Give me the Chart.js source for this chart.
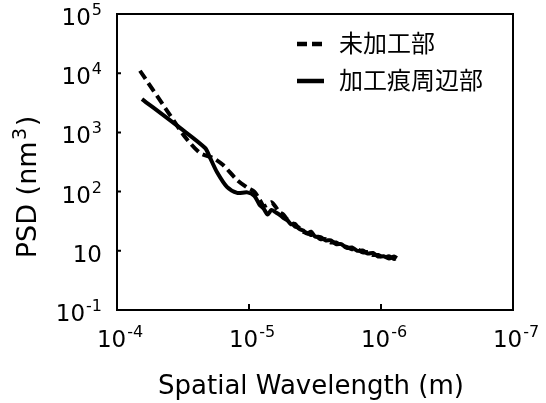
<!DOCTYPE html>
<html>
<head>
<meta charset="utf-8">
<script src="https://cdn.jsdelivr.net/npm/chart.js@4.4.1/dist/chart.umd.min.js"></script>
<style>
  html, body { margin: 0; padding: 0; background: #fff; }
</style>
</head>
<body>
<canvas id="psd" width="546" height="403"></canvas>
<script>
// series labels and axis titles
const seriesLabels = ["未加工部", "加工痕周辺部"];
const xTitle = "Spatial Wavelength (m)";

// head of each curve (before the two curves merge), wavelength in m
const unprocessedHeadWl = [6.70e-5, 4.11e-5, 3.05e-5, 2.35e-5, 1.87e-5, 1.57e-5, 1.23e-5, 1.02e-5];
const unprocessedHeadPsd = [11000, 2210, 836, 449, 370, 281, 157, 115];
const processedHeadWl = [6.47e-5, 3.33e-5, 2.15e-5, 1.97e-5, 1.75e-5, 1.47e-5, 1.23e-5, 1.03e-5];
const processedHeadPsd = [3660, 1190, 545, 370, 214, 120, 95, 97];

// noisy tail, shared wavelengths
const tailWl = [9.12e-6, 8.32e-6, 7.76e-6, 7.24e-6, 6.76e-6, 6.31e-6, 5.89e-6, 5.50e-6, 5.13e-6, 4.79e-6,
  4.47e-6, 4.17e-6, 3.89e-6, 3.63e-6, 3.39e-6, 3.16e-6, 2.88e-6, 2.63e-6, 2.40e-6, 2.19e-6,
  2.00e-6, 1.82e-6, 1.66e-6, 1.51e-6, 1.38e-6, 1.26e-6, 1.15e-6, 1.05e-6, 9.55e-7, 8.71e-7,
  7.94e-7, 7.59e-7];
const unprocessedTailPsd = [100, 74, 57, 60, 66, 56, 45, 41, 34, 31,
  25.5, 24.5, 21, 20, 18.5, 18.5, 15.8, 15.8, 13.8, 13.8,
  12.2, 11.6, 10.6, 10.6, 9.4, 9.5, 8.5, 8.5, 7.6, 8.1,
  7.3, 7.8];
const processedTailPsd = [85, 60, 52, 41, 49, 45, 41, 36, 33, 28,
  28.5, 23.5, 22, 19.5, 21, 17.5, 17, 15, 15, 13,
  13, 11.2, 11.4, 10, 10.1, 9.0, 9.2, 8.0, 8.1, 7.4,
  8.0, 7.5];

// axis ticks: base "10" with these exponents (the figure labels its bottom decade "10-1")
const xTickValues = [1e-7, 1e-6, 1e-5, 1e-4];
const xTickExponents = ["-7", "-6", "-5", "-4"];
const yTickValues = [1, 10, 100, 1000, 10000, 100000];
const yTickExponents = ["-1", "", "2", "3", "4", "5"];

function toPoints(wl, psd) {
  return wl.map(function (x, i) { return { x: x, y: psd[i] }; });
}

const unprocessed = toPoints(unprocessedHeadWl.concat(tailWl), unprocessedHeadPsd.concat(unprocessedTailPsd));
const processed = toPoints(processedHeadWl.concat(tailWl), processedHeadPsd.concat(processedTailPsd));

const baseFont = "23px 'DejaVu Sans'";
const supFont = "16px 'DejaVu Sans'";

// draws "10" with a raised exponent; align is "right" or "center"
function powerLabel(ctx, exp, x, baseline, align) {
  ctx.font = baseFont;
  const wb = ctx.measureText("10").width;
  ctx.font = supFont;
  const we = exp ? ctx.measureText(exp).width + 1 : 0;
  let left = align === "right" ? x - wb - we : x - (wb + we) / 2;
  ctx.font = baseFont;
  ctx.fillText("10", left, baseline);
  if (exp) {
    ctx.font = supFont;
    ctx.fillText(exp, left + wb + 1, baseline - 10);
  }
}

// frame, inward tick marks, tick labels, titles and legend
const decorations = {
  id: "decorations",
  afterDraw: function (chart) {
    const ctx = chart.ctx;
    const a = chart.chartArea;
    const xs = chart.scales.x, ys = chart.scales.y;
    ctx.save();
    ctx.strokeStyle = "#000";
    ctx.lineWidth = 2;
    ctx.beginPath();
    ctx.moveTo(a.left, a.top); ctx.lineTo(a.right, a.top); ctx.lineTo(a.right, a.bottom);
    ctx.stroke();

    // inner ticks
    ctx.beginPath();
    xTickValues.forEach(function (v) {
      const px = xs.getPixelForValue(v);
      if (px > a.left + 2 && px < a.right - 2) { ctx.moveTo(px, a.bottom); ctx.lineTo(px, a.bottom - 6); }
    });
    yTickValues.forEach(function (v) {
      const py = ys.getPixelForValue(v);
      if (py > a.top + 2 && py < a.bottom - 2) { ctx.moveTo(a.left, py); ctx.lineTo(a.left + 4, py); }
    });
    ctx.stroke();

    // tick labels
    ctx.fillStyle = "#000";
    ctx.textAlign = "left";
    ctx.textBaseline = "alphabetic";
    xTickValues.forEach(function (v, i) {
      powerLabel(ctx, xTickExponents[i], xs.getPixelForValue(v) + 3, a.bottom + 37, "center");
    });
    yTickValues.forEach(function (v, i) {
      powerLabel(ctx, yTickExponents[i], a.left - 15, ys.getPixelForValue(v) + 11, "right");
    });

    // x title
    ctx.font = "26px 'DejaVu Sans'";
    ctx.textAlign = "center";
    ctx.fillText(xTitle, (a.left + a.right) / 2 - 4, 394);
    ctx.textAlign = "left";

    // y title with superscript
    ctx.translate(29, 187);
    ctx.rotate(-Math.PI / 2);
    ctx.textBaseline = "middle";
    const big = "27px 'DejaVu Sans'", small = "19px 'DejaVu Sans'";
    ctx.font = big;
    const w1 = ctx.measureText("PSD (nm").width, w3 = ctx.measureText(")").width;
    ctx.font = small;
    const w2 = ctx.measureText("3").width + 3;
    let x0 = -(w1 + w2 + w3) / 2;
    ctx.font = big; ctx.fillText("PSD (nm", x0, 0);
    ctx.font = small; ctx.fillText("3", x0 + w1 + 1.5, -8);
    ctx.font = big; ctx.fillText(")", x0 + w1 + w2, 0);
    ctx.restore();

    // legend
    ctx.save();
    const ly = [44, 81];
    chart.data.datasets.forEach(function (ds, i) {
      ctx.strokeStyle = "#000";
      ctx.lineWidth = 4.5;
      ctx.setLineDash(ds.borderDash || []);
      ctx.beginPath();
      ctx.moveTo(297, ly[i]); ctx.lineTo(324, ly[i]);
      ctx.stroke();
      ctx.setLineDash([]);
      ctx.fillStyle = "#000";
      ctx.font = "24px 'Noto Sans CJK JP'";
      ctx.textBaseline = "middle";
      ctx.fillText(ds.label, 339, ly[i] - 1);
    });
    ctx.restore();
  }
};

new Chart("psd", {
  type: "line",
  data: {
    datasets: [{
      label: seriesLabels[0],
      data: unprocessed,
      borderColor: "#000",
      borderWidth: 4,
      borderDash: [10, 5],
      pointRadius: 0,
      tension: 0.25,
      fill: false
    }, {
      label: seriesLabels[1],
      data: processed,
      borderColor: "#000",
      borderWidth: 4,
      pointRadius: 0,
      tension: 0.25,
      fill: false
    }]
  },
  options: {
    responsive: false,
    animation: false,
    // plot box fixed by padding; all axis text is painted by the plugin
    layout: { padding: { top: 14, right: 33, left: 117, bottom: 93 } },
    plugins: {
      legend: { display: false },
      tooltip: { enabled: false }
    },
    scales: {
      x: {
        type: "logarithmic",
        reverse: true,
        min: 1e-7,
        max: 1e-4,
        grid: { display: false, drawTicks: false },
        border: { color: "#000", width: 2 },
        afterBuildTicks: function (scale) {
          scale.ticks = xTickValues.map(function (v) { return { value: v }; });
        },
        ticks: { display: false }
      },
      y: {
        type: "logarithmic",
        min: 1,
        max: 100000,
        grid: { display: false, drawTicks: false },
        border: { color: "#000", width: 2 },
        afterBuildTicks: function (scale) {
          scale.ticks = yTickValues.map(function (v) { return { value: v }; });
        },
        ticks: { display: false }
      }
    }
  },
  plugins: [decorations]
});
</script>
</body>
</html>
